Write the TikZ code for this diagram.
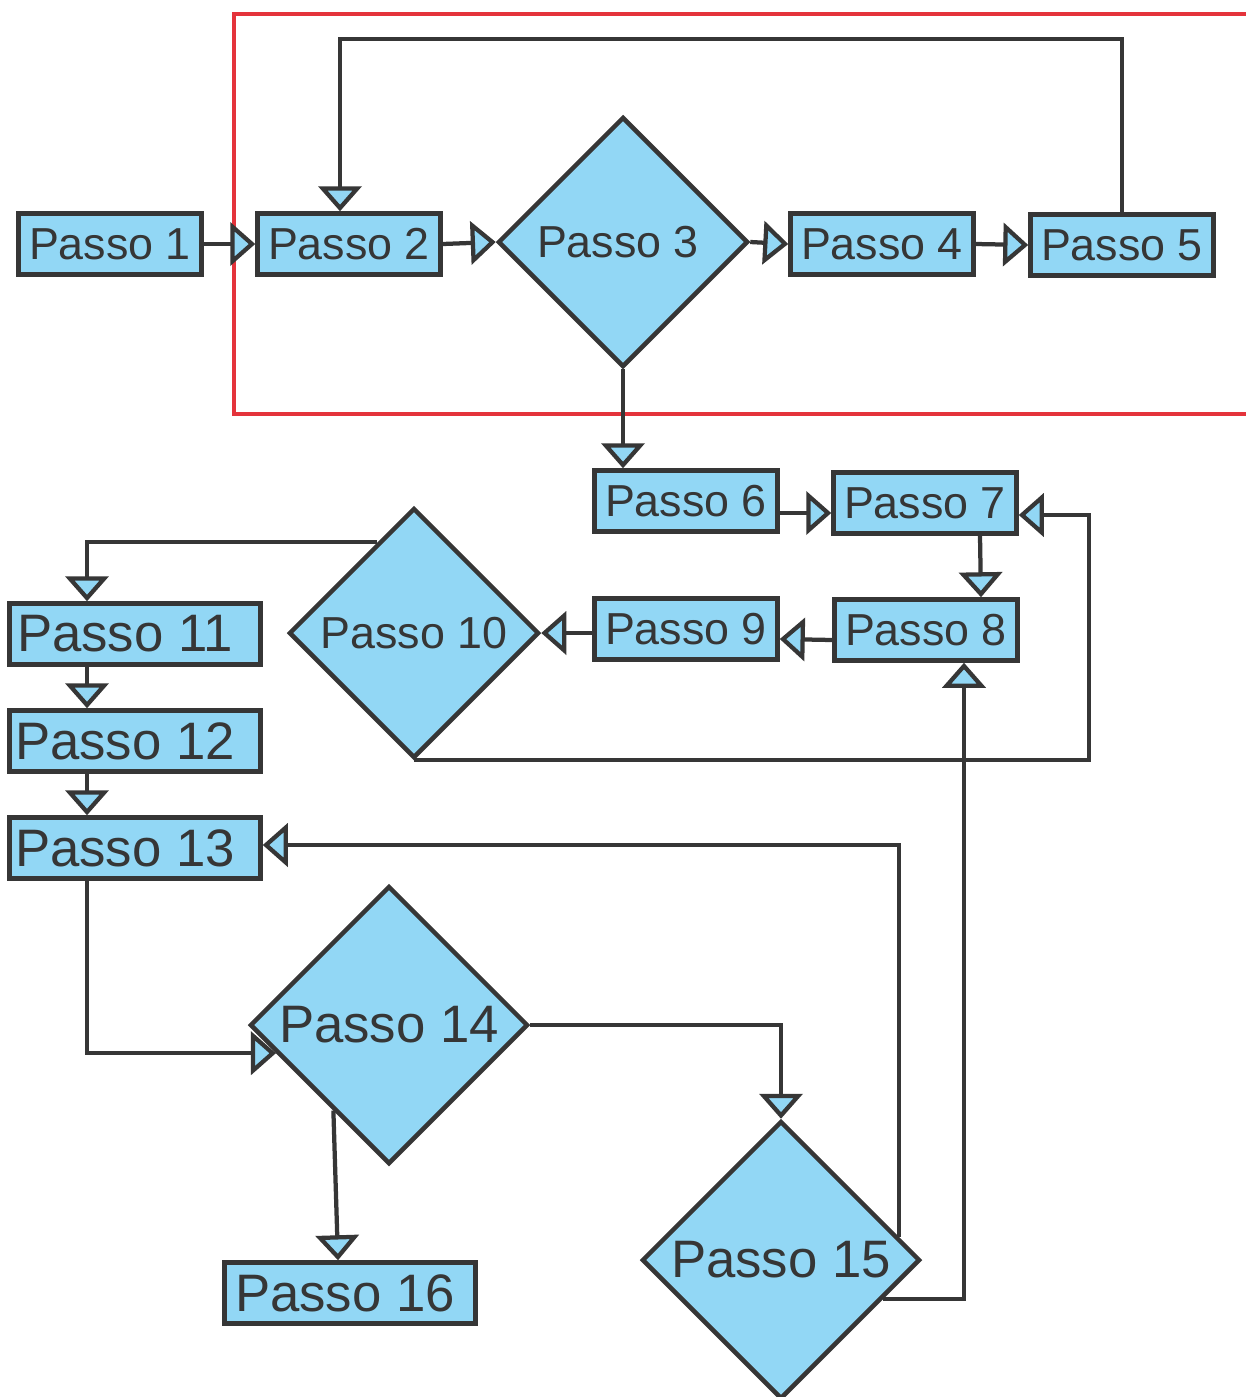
\documentclass[tikz,border=0pt]{standalone}
\usepackage{fontspec}
\setmainfont{Liberation Sans}
\usetikzlibrary{arrows.meta,shapes.geometric}
\definecolor{PBlue}{HTML}{92D7F5}
\definecolor{PDark}{HTML}{363636}
\definecolor{PRed}{HTML}{E4333B}

\begin{document}
\begin{tikzpicture}[
  x=0.2mm, y=-0.2mm,
  box/.style={draw=PDark, fill=PBlue, line width=0.9mm, minimum width=36.6mm, minimum height=12.2mm, inner sep=0pt, align=center, text=PDark, font=\fontsize{25.5}{30}\selectfont},
  widebox/.style={box, minimum width=50.2mm, font=\fontsize{30}{34}\selectfont},
  decisionnode/.style={draw=PDark, fill=PBlue, line width=0.9mm, shape=diamond, aspect=1, minimum width=50mm, minimum height=50mm, inner sep=0pt, align=center, text=PDark, font=\fontsize{25.5}{30}\selectfont},
  bigdecision/.style={decisionnode, minimum width=55.6mm, minimum height=55.6mm, font=\fontsize{30}{34}\selectfont},
  arrow/.style={-{Triangle[length=5mm,width=8.6mm,fill=PBlue]}, line width=0.85mm, PDark}
]
\useasboundingbox (0,0) rectangle (1245,1397);
% area evidenziata
\draw[PRed, line width=0.8mm] (1250,14) -- (234,14) -- (234,414) -- (1250,414);

\node[box] (p1) at (110,244) {Passo 1};
\node[box] (p2) at (349,244) {Passo 2};
\node[decisionnode] (p3) at (623,242) {Passo 3\hspace*{2mm}};
\node[box] (p4) at (882,244) {Passo 4};
\node[box] (p5) at (1122,245) {Passo 5};
\node[box] (p6) at (686,501) {Passo 6};
\node[box] (p7) at (925,503) {Passo 7};
\node[box] (p8) at (926,630) {Passo 8};
\node[box] (p9) at (686,629) {Passo 9};
\node[decisionnode] (p10) at (414,633) {Passo 10};
\node[widebox] (p11) at (135,634) {Passo 11\hspace*{4mm}};
\node[widebox] (p12) at (135,741) {Passo 12\hspace*{4mm}};
\node[widebox] (p13) at (135,848) {Passo 13\hspace*{4mm}};
\node[bigdecision] (p14) at (389,1025) {Passo 14};
\node[bigdecision] (p15) at (781,1260) {Passo 15};
\node[widebox] (p16) at (350,1293) {Passo 16\hspace*{2mm}};

\draw[arrow] (p1.east) -- (p2.west);
\draw[arrow] (p2.east) -- (p3.west);
\draw[arrow] (p3.east) -- (p4.west);
\draw[arrow] (p4.east) -- (p5.west);
\draw[arrow] (p5.north) -- ++(0,-173) -| ([xshift=-1.8mm]p2.north);
\draw[arrow] (p3.south) -- (p3.south |- p6.north);
\draw[arrow] ([yshift=-2.4mm]p6.east) -- ([yshift=-2.4mm]p6.east -| p7.west);
\draw[arrow] ([xshift=11mm]p7.south) -- ([xshift=11mm]p8.north);
\draw[arrow] ([yshift=-2mm]p8.west) -- ([yshift=-2mm]p9.east);
\draw[arrow] (p9.west |- p10.east) -- (p10.east);
\draw[arrow] (p10.112) -| ([xshift=-9.6mm]p11.north);
\draw[arrow] ([xshift=-9.6mm]p11.south) -- ([xshift=-9.6mm]p12.north);
\draw[arrow] ([xshift=-9.6mm]p12.south) -- ([xshift=-9.6mm]p13.north);
\draw[arrow] (p10.south) -| ([xshift=14mm,yshift=-2.4mm]p7.east) -- ([yshift=-2.4mm]p7.east);
\draw[arrow] ([xshift=-9.6mm]p13.south) |- (p14.194);
\draw[arrow] (p14.east) -| (p15.north);
\draw[arrow] (p14.237) -- ([xshift=-2.4mm]p16.north);
\draw[arrow] (p15.11) |- ([yshift=0.6mm]p13.east);
\draw[arrow] (p15.339) -| ([xshift=7.6mm]p8.south);
\end{tikzpicture}
\end{document}
